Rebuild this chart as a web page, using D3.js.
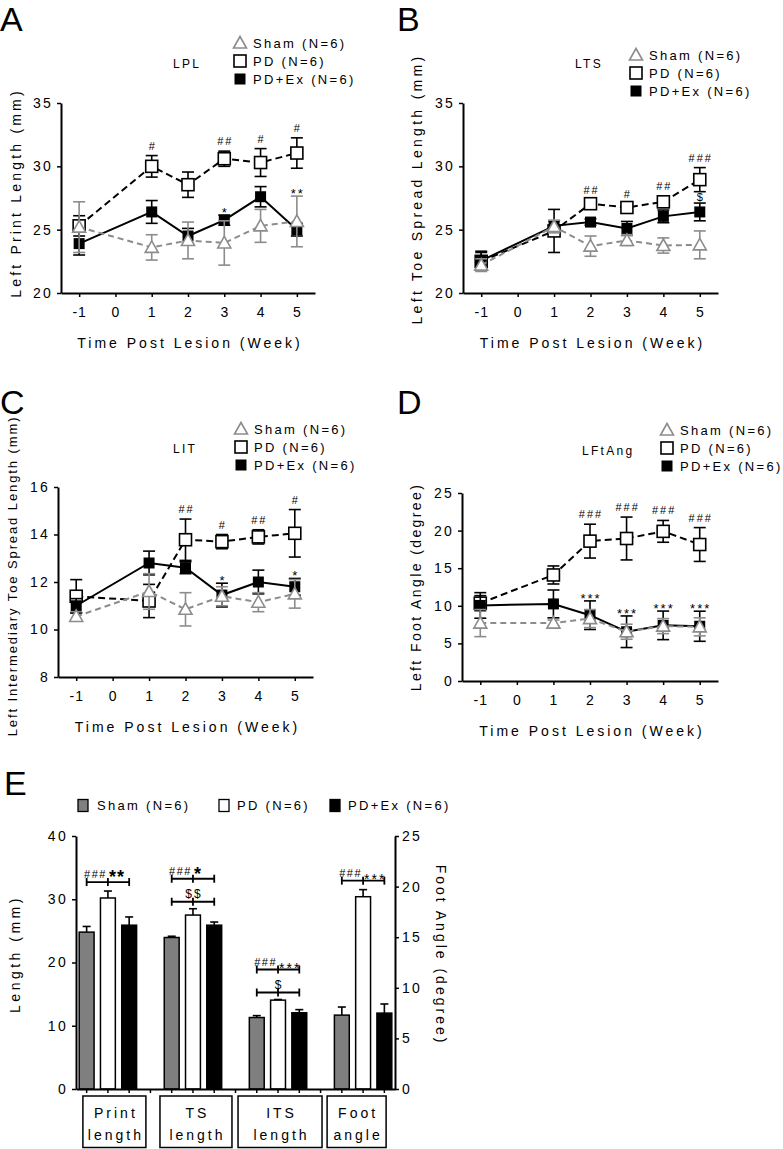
<!DOCTYPE html>
<html><head><meta charset="utf-8">
<script src="https://cdn.jsdelivr.net/npm/d3@7"></script>
<style>
body{margin:0;background:#fff;}
svg{display:block;font-family:"Liberation Sans",Arial,sans-serif;}
</style></head><body>
<svg id="c" width="783" height="1149"></svg>
<script>
// ---------- DATA ----------
const weeks = [-1, 1, 2, 3, 4, 5];
const weekTicks = [-1, 0, 1, 2, 3, 4, 5];
const groupNames = ["Sham (N=6)", "PD (N=6)", "PD+Ex (N=6)"];

// Panel A : LPL
const lplSham = [25.2, 23.6, 24.15, 23.95, 25.3, 25.65];
const lplShamErr = [2.0, 1.0, 1.45, 1.75, 1.3, 2.0];
const lplPD = [25.3, 30.0, 28.55, 30.6, 30.3, 31.05];
const lplPDErr = [0.8, 0.85, 1.0, 0.6, 1.1, 1.2];
const lplEx = [23.9, 26.4, 24.5, 25.75, 27.6, 25.0];
const lplExErr = [0.9, 0.9, 0.6, 0.4, 0.8, 0.5];
const lplPDSig = ["", "#", "", "##", "#", "#"];
const lplExSig = ["", "", "", "*", "", "**"];
const lplTicks = [20, 25, 30, 35];

// Panel B : LTS
const ltsSham = [22.2, 25.25, 23.7, 24.15, 23.75, 23.8];
const ltsShamErr = [0.5, 0.5, 0.8, 0.4, 0.6, 1.1];
const ltsPD = [22.5, 24.9, 27.05, 26.75, 27.2, 28.95];
const ltsPDErr = [0.7, 1.7, 0.3, 0.3, 0.45, 0.95];
const ltsEx = [22.55, 25.3, 25.6, 25.1, 26.05, 26.4];
const ltsExErr = [0.75, 0.4, 0.25, 0.55, 0.5, 0.7];
const ltsPDSig = ["", "", "##", "#", "##", "###"];
const ltsExSig = ["", "", "", "", "", "$"];
const ltsTicks = [20, 25, 30, 35];

// Panel C : LIT
const litSham = [10.55, 11.6, 10.85, 11.4, 11.15, 11.5];
const litShamErr = [0.2, 0.75, 0.7, 0.4, 0.4, 0.6];
const litPD = [11.4, 11.2, 13.78, 13.7, 13.9, 14.05];
const litPDErr = [0.7, 0.7, 0.87, 0.3, 0.3, 1.0];
const litEx = [11.0, 12.8, 12.6, 11.45, 12.0, 11.8];
const litExErr = [0.3, 0.5, 0.25, 0.5, 0.5, 0.35];
const litPDSig = ["", "", "##", "#", "##", "#"];
const litExSig = ["", "", "", "*", "", "*"];
const litTicks = [8, 10, 12, 14, 16];

// Panel D : LFtAng
const ftSham = [7.7, 7.7, 8.3, 6.55, 7.3, 7.2];
const ftShamErr = [1.8, 0.4, 1.2, 1.0, 1.0, 1.2];
const ftPD = [10.35, 14.1, 18.6, 18.95, 19.9, 18.15];
const ftPDErr = [1.0, 1.2, 2.25, 2.85, 1.45, 2.25];
const ftEx = [10.05, 10.25, 8.75, 6.55, 7.4, 7.28];
const ftExErr = [1.7, 1.85, 1.9, 2.1, 1.9, 2.0];
const ftPDSig = ["", "", "###", "###", "###", "###"];
const ftExSig = ["", "", "***", "***", "***", "***"];
const ftTicks = [0, 5, 10, 15, 20, 25];

// Panel E : summary bars
const eCategories = [["Print", "length"], ["TS", "length"], ["ITS", "length"], ["Foot", "angle"]];
const eSham = [24.8, 23.95, 11.3, 7.3];
const eShamErr = [0.9, 0.2, 0.3, 0.8];
const ePD = [30.2, 27.5, 14.05, 19.0];
const ePDErr = [1.1, 1.0, 0.1, 0.7];
const eEx = [25.9, 25.9, 12.05, 7.5];
const eExErr = [1.3, 0.5, 0.5, 0.9];
const eUsesRightAxis = [false, false, false, true];
const eHashSig = ["###", "###", "###", "###"];
const eStarSig = ["**", "*", "***", "***"];
const eDollarSig = ["", "$$", "$", ""];
const eLeftTicks = [0, 10, 20, 30, 40];
const eRightTicks = [0, 5, 10, 15, 20, 25];

// ---------- STYLE / LAYOUT ----------
const gray = "#8c8c8c";
const svg = d3.select("#c");
const fmtTick = d => String(d);

function styleAxis(a, fs, ls) {
  a.attr("font-family", null).attr("font-size", null);
  a.select(".domain").attr("stroke", "#000").attr("stroke-width", 2);
  a.selectAll(".tick line").attr("stroke", "#000").attr("stroke-width", 1.5);
  a.selectAll(".tick text").attr("fill", "#000").style("font-size", fs + "px").style("letter-spacing", ls + "px");
}

function marker(g, type, cx, cy) {
  if (type === "open") {
    g.append("rect").attr("x", cx - 6).attr("y", cy - 6).attr("width", 12).attr("height", 12)
      .attr("fill", "#fff").attr("stroke", "#000").attr("stroke-width", 1.6);
  } else if (type === "filled") {
    g.append("rect").attr("x", cx - 5.5).attr("y", cy - 5.5).attr("width", 11).attr("height", 11)
      .attr("fill", "#000");
  } else {
    g.append("path").attr("d", `M${cx},${cy - 6.5}L${cx + 6.5},${cy + 5}L${cx - 6.5},${cy + 5}Z`)
      .attr("fill", "#fff").attr("stroke", gray).attr("stroke-width", 1.6);
  }
}

function drawLinePanel(p) {
  const g = svg.append("g");
  const x = d3.scaleLinear().domain([-1.5, 5.5]).range([p.x0, p.x1]);
  const y = d3.scaleLinear().domain([p.yTicks[0], p.yTicks[p.yTicks.length - 1]]).range([p.yBot, p.yTop]);

  const ya = g.append("g").attr("transform", `translate(${p.x0},0)`)
    .call(d3.axisLeft(y).tickValues(p.yTicks).tickFormat(fmtTick).tickSize(4).tickSizeOuter(0).tickPadding(4));
  styleAxis(ya, 14, 2.2);
  const xa = g.append("g").attr("transform", `translate(0,${p.yBot})`)
    .call(d3.axisBottom(x).tickValues(weekTicks).tickFormat(fmtTick).tickSize(4).tickSizeOuter(0).tickPadding(10));
  styleAxis(xa, 14, 1);

  // axis titles
  g.append("text").attr("x", (p.x0 + p.x1) / 2 + 2).attr("y", p.yBot + 55).attr("text-anchor", "middle")
    .style("font-size", "14px").style("letter-spacing", "3px").text("Time Post Lesion (Week)");
  g.append("text").attr("transform", `translate(${p.ylX},${p.ylY}) rotate(-90)`).attr("text-anchor", "middle")
    .attr("dy", "0.35em").style("font-size", p.ylSize + "px").style("letter-spacing", p.ylLs + "px").text(p.ylabel);

  // series
  const series = [
    { v: p.pd, e: p.pdErr, col: "#000", dash: "7,4", m: "open" },
    { v: p.ex, e: p.exErr, col: "#000", dash: null, m: "filled" },
    { v: p.sham, e: p.shamErr, col: gray, dash: "6,4", m: "tri" }
  ];
  series.forEach(s => {
    const line = d3.line().x((d, i) => x(weeks[i])).y(d => y(d));
    g.append("path").attr("d", line(s.v)).attr("fill", "none").attr("stroke", s.col)
      .attr("stroke-width", 2).attr("stroke-dasharray", s.dash);
    s.v.forEach((v, i) => {
      const cx = x(weeks[i]), t = y(v + s.e[i]), b = y(v - s.e[i]);
      g.append("line").attr("x1", cx).attr("x2", cx).attr("y1", t).attr("y2", b).attr("stroke", s.col).attr("stroke-width", 1.6);
      [t, b].forEach(yy => g.append("line").attr("x1", cx - 6).attr("x2", cx + 6).attr("y1", yy).attr("y2", yy)
        .attr("stroke", s.col).attr("stroke-width", 1.6));
    });
    s.v.forEach((v, i) => marker(g, s.m, x(weeks[i]), y(v)));
  });

  // significance
  weeks.forEach((w, i) => {
    if (p.pdSig[i]) {
      g.append("text").attr("x", x(w) + 1).attr("y", y(p.pd[i] + p.pdErr[i]) - 6).attr("text-anchor", "middle")
        .attr("fill", "#000").style("font-size", "11px").style("letter-spacing", "2px").text(p.pdSig[i]);
    }
    if (p.exSig[i]) {
      const top = Math.min(y(p.ex[i] + p.exErr[i]), y(p.sham[i] + p.shamErr[i]));
      const isDollar = p.exSig[i].indexOf("$") >= 0;
      g.append("text").attr("x", x(w) + 1).attr("y", isDollar ? y(p.ex[i] + p.exErr[i]) - 2 : top + 2)
        .attr("text-anchor", "middle").attr("fill", "#000").style("font-size", isDollar ? "11px" : "13px")
        .style("letter-spacing", "2px").text(p.exSig[i]);
    }
  });

  // legend
  const types = ["tri", "open", "filled"];
  groupNames.forEach((n, i) => {
    const cy = p.legY + i * 18;
    marker(g, types[i], p.legX, cy);
    g.append("text").attr("x", p.legX + 13).attr("y", cy + 5).style("font-size", "13px")
      .style("letter-spacing", "2.3px").text(n);
  });
  g.append("text").attr("x", p.titleX).attr("y", p.titleY).style("font-size", "12px")
    .style("letter-spacing", "2.3px").text(p.title);
  g.append("text").attr("x", p.letterX).attr("y", p.letterY).style("font-size", "34px").text(p.letter);
}

drawLinePanel({
  x0: 61, x1: 315, yTop: 103, yBot: 293, yTicks: lplTicks,
  sham: lplSham, shamErr: lplShamErr, pd: lplPD, pdErr: lplPDErr, ex: lplEx, exErr: lplExErr,
  pdSig: lplPDSig, exSig: lplExSig, ylabel: "Left Print Length (mm)", ylX: 16, ylY: 193, ylSize: 14, ylLs: 3.2,
  legX: 240, legY: 43, title: "LPL", titleX: 173, titleY: 68, letter: "A", letterX: 0, letterY: 31
});
drawLinePanel({
  x0: 463, x1: 718, yTop: 103, yBot: 293, yTicks: ltsTicks,
  sham: ltsSham, shamErr: ltsShamErr, pd: ltsPD, pdErr: ltsPDErr, ex: ltsEx, exErr: ltsExErr,
  pdSig: ltsPDSig, exSig: ltsExSig, ylabel: "Left Toe Spread Length (mm)", ylX: 417, ylY: 189, ylSize: 14, ylLs: 3.3,
  legX: 636, legY: 55, title: "LTS", titleX: 575, titleY: 68, letter: "B", letterX: 397, letterY: 31
});
drawLinePanel({
  x0: 58, x1: 313, yTop: 487, yBot: 677, yTicks: litTicks,
  sham: litSham, shamErr: litShamErr, pd: litPD, pdErr: litPDErr, ex: litEx, exErr: litExErr,
  pdSig: litPDSig, exSig: litExSig, ylabel: "Left Intermediary Toe Spread Length (mm)", ylX: 12, ylY: 576, ylSize: 13, ylLs: 1.9,
  legX: 241, legY: 429, title: "LIT", titleX: 173, titleY: 453, letter: "C", letterX: 0, letterY: 414
});
drawLinePanel({
  x0: 462, x1: 718, yTop: 493, yBot: 681, yTicks: ftTicks,
  sham: ftSham, shamErr: ftShamErr, pd: ftPD, pdErr: ftPDErr, ex: ftEx, exErr: ftExErr,
  pdSig: ftPDSig, exSig: ftExSig, ylabel: "Left Foot Angle (degree)", ylX: 416, ylY: 587, ylSize: 14, ylLs: 2.4,
  legX: 667, legY: 430, title: "LFtAng", titleX: 582, titleY: 455, letter: "D", letterX: 397, letterY: 414
});

// ---------- PANEL E ----------
(function () {
  const g = svg.append("g");
  const L = 76, R = 395, top = 836, bot = 1089;
  const nSlots = eCategories.length * 4 - 1;
  const xb = d3.scaleBand().domain(d3.range(nSlots)).range([L, R]).paddingInner(0.3).paddingOuter(0.15);
  const yL = d3.scaleLinear().domain([0, 40]).range([bot, top]);
  const yR = d3.scaleLinear().domain([0, 25]).range([bot, top]);

  const fills = ["#7f7f7f", "#fff", "#000"];
  eCategories.forEach((c, gi) => {
    const ys = eUsesRightAxis[gi] ? yR : yL;
    const vals = [eSham[gi], ePD[gi], eEx[gi]];
    const errs = [eShamErr[gi], ePDErr[gi], eExErr[gi]];
    vals.forEach((v, si) => {
      const slot = gi * 4 + si;
      const x0 = xb(slot), bw = xb.bandwidth(), cx = x0 + bw / 2;
      const et = ys(v + errs[si]);
      g.append("line").attr("x1", cx).attr("x2", cx).attr("y1", ys(v)).attr("y2", et).attr("stroke", "#000").attr("stroke-width", 1.6);
      g.append("line").attr("x1", cx - 4).attr("x2", cx + 4).attr("y1", et).attr("y2", et).attr("stroke", "#000").attr("stroke-width", 1.6);
      g.append("rect").attr("x", x0).attr("y", ys(v)).attr("width", bw).attr("height", bot - ys(v))
        .attr("fill", fills[si]).attr("stroke", "#000").attr("stroke-width", 1.5);
    });

    // brackets
    const cS = xb(gi * 4) + xb.bandwidth() / 2, cP = xb(gi * 4 + 1) + xb.bandwidth() / 2, cE = xb(gi * 4 + 2) + xb.bandwidth() / 2;
    const pdTop = ys(ePD[gi] + ePDErr[gi]);
    function bracket(by) {
      g.append("line").attr("x1", cS).attr("x2", cE).attr("y1", by).attr("y2", by).attr("stroke", "#000").attr("stroke-width", 1.8);
      [cS, cP, cE].forEach(xx => g.append("line").attr("x1", xx).attr("x2", xx).attr("y1", by - 4).attr("y2", by + 4)
        .attr("stroke", "#000").attr("stroke-width", 1.8));
    }
    let upper;
    if (eDollarSig[gi]) {
      const lower = pdTop - 7;
      bracket(lower);
      g.append("text").attr("x", cP + 1).attr("y", lower - 4).attr("text-anchor", "middle").attr("fill", "#000")
        .style("font-size", "12px").style("letter-spacing", "2px").text(eDollarSig[gi]);
      upper = lower - 23;
    } else {
      upper = pdTop - 9;
    }
    bracket(upper);
    g.append("text").attr("x", cP - 1).attr("y", upper - 4).attr("text-anchor", "end").attr("fill", "#000")
      .style("font-size", "11px").style("letter-spacing", "1.5px").text(eHashSig[gi]);
    const big = eStarSig[gi].length <= 2;
    g.append("text").attr("x", cP + 1).attr("y", upper + (big ? 1 : 3)).attr("text-anchor", "start").attr("fill", "#000")
      .style("font-size", big ? "18px" : "14px").style("font-weight", big ? "bold" : "normal")
      .style("letter-spacing", big ? "1px" : "2px").text(eStarSig[gi]);
  });

  // axes
  const xa = g.append("g").attr("transform", `translate(0,${bot})`)
    .call(d3.axisBottom(xb).tickFormat(() => "").tickSize(4).tickSizeOuter(0));
  styleAxis(xa, 14, 2);
  const la = g.append("g").attr("transform", `translate(${L},0)`)
    .call(d3.axisLeft(yL).tickValues(eLeftTicks).tickFormat(fmtTick).tickSize(4).tickSizeOuter(0).tickPadding(4));
  styleAxis(la, 14, 2.3);
  const ra = g.append("g").attr("transform", `translate(${R},0)`)
    .call(d3.axisRight(yR).tickValues(eRightTicks).tickFormat(fmtTick).tickSize(4).tickSizeOuter(0).tickPadding(3));
  styleAxis(ra, 14, 2.3);

  g.append("text").attr("transform", `translate(15,954) rotate(-90)`).attr("text-anchor", "middle").attr("dy", "0.35em")
    .style("font-size", "14px").style("letter-spacing", "3.5px").text("Length (mm)");
  g.append("text").attr("transform", `translate(441,955) rotate(90)`).attr("text-anchor", "middle").attr("dy", "0.35em")
    .style("font-size", "14px").style("letter-spacing", "3px").text("Foot Angle (degree)");

  // category boxes (layout offsets relative to group centres)
  const boxLayout = [{ dx: 6.5, w: 63 }, { dx: 3, w: 72 }, { dx: 2, w: 84 }, { dx: -6.5, w: 59 }];
  eCategories.forEach((c, gi) => {
    const cc = xb(gi * 4 + 1) + xb.bandwidth() / 2 + boxLayout[gi].dx;
    g.append("rect").attr("x", cc - boxLayout[gi].w / 2).attr("y", 1096).attr("width", boxLayout[gi].w).attr("height", 51.5)
      .attr("fill", "none").attr("stroke", "#000").attr("stroke-width", 1.5);
    c.forEach((t, li) => g.append("text").attr("x", cc + 1.5).attr("y", 1118 + li * 22).attr("text-anchor", "middle")
      .style("font-size", "14px").style("letter-spacing", "3px").text(t));
  });

  // legend
  const legX = [78, 219, 330], legTx = [97, 237, 348];
  groupNames.forEach((n, i) => {
    g.append("rect").attr("x", legX[i]).attr("y", 799.5).attr("width", 10).attr("height", 12)
      .attr("fill", fills[i]).attr("stroke", "#000").attr("stroke-width", 1.3);
    g.append("text").attr("x", legTx[i]).attr("y", 810).style("font-size", "13px").style("letter-spacing", "2.3px").text(n);
  });
  g.append("text").attr("x", 4).attr("y", 795).style("font-size", "34px").text("E");
})();
</script>
</body></html>
